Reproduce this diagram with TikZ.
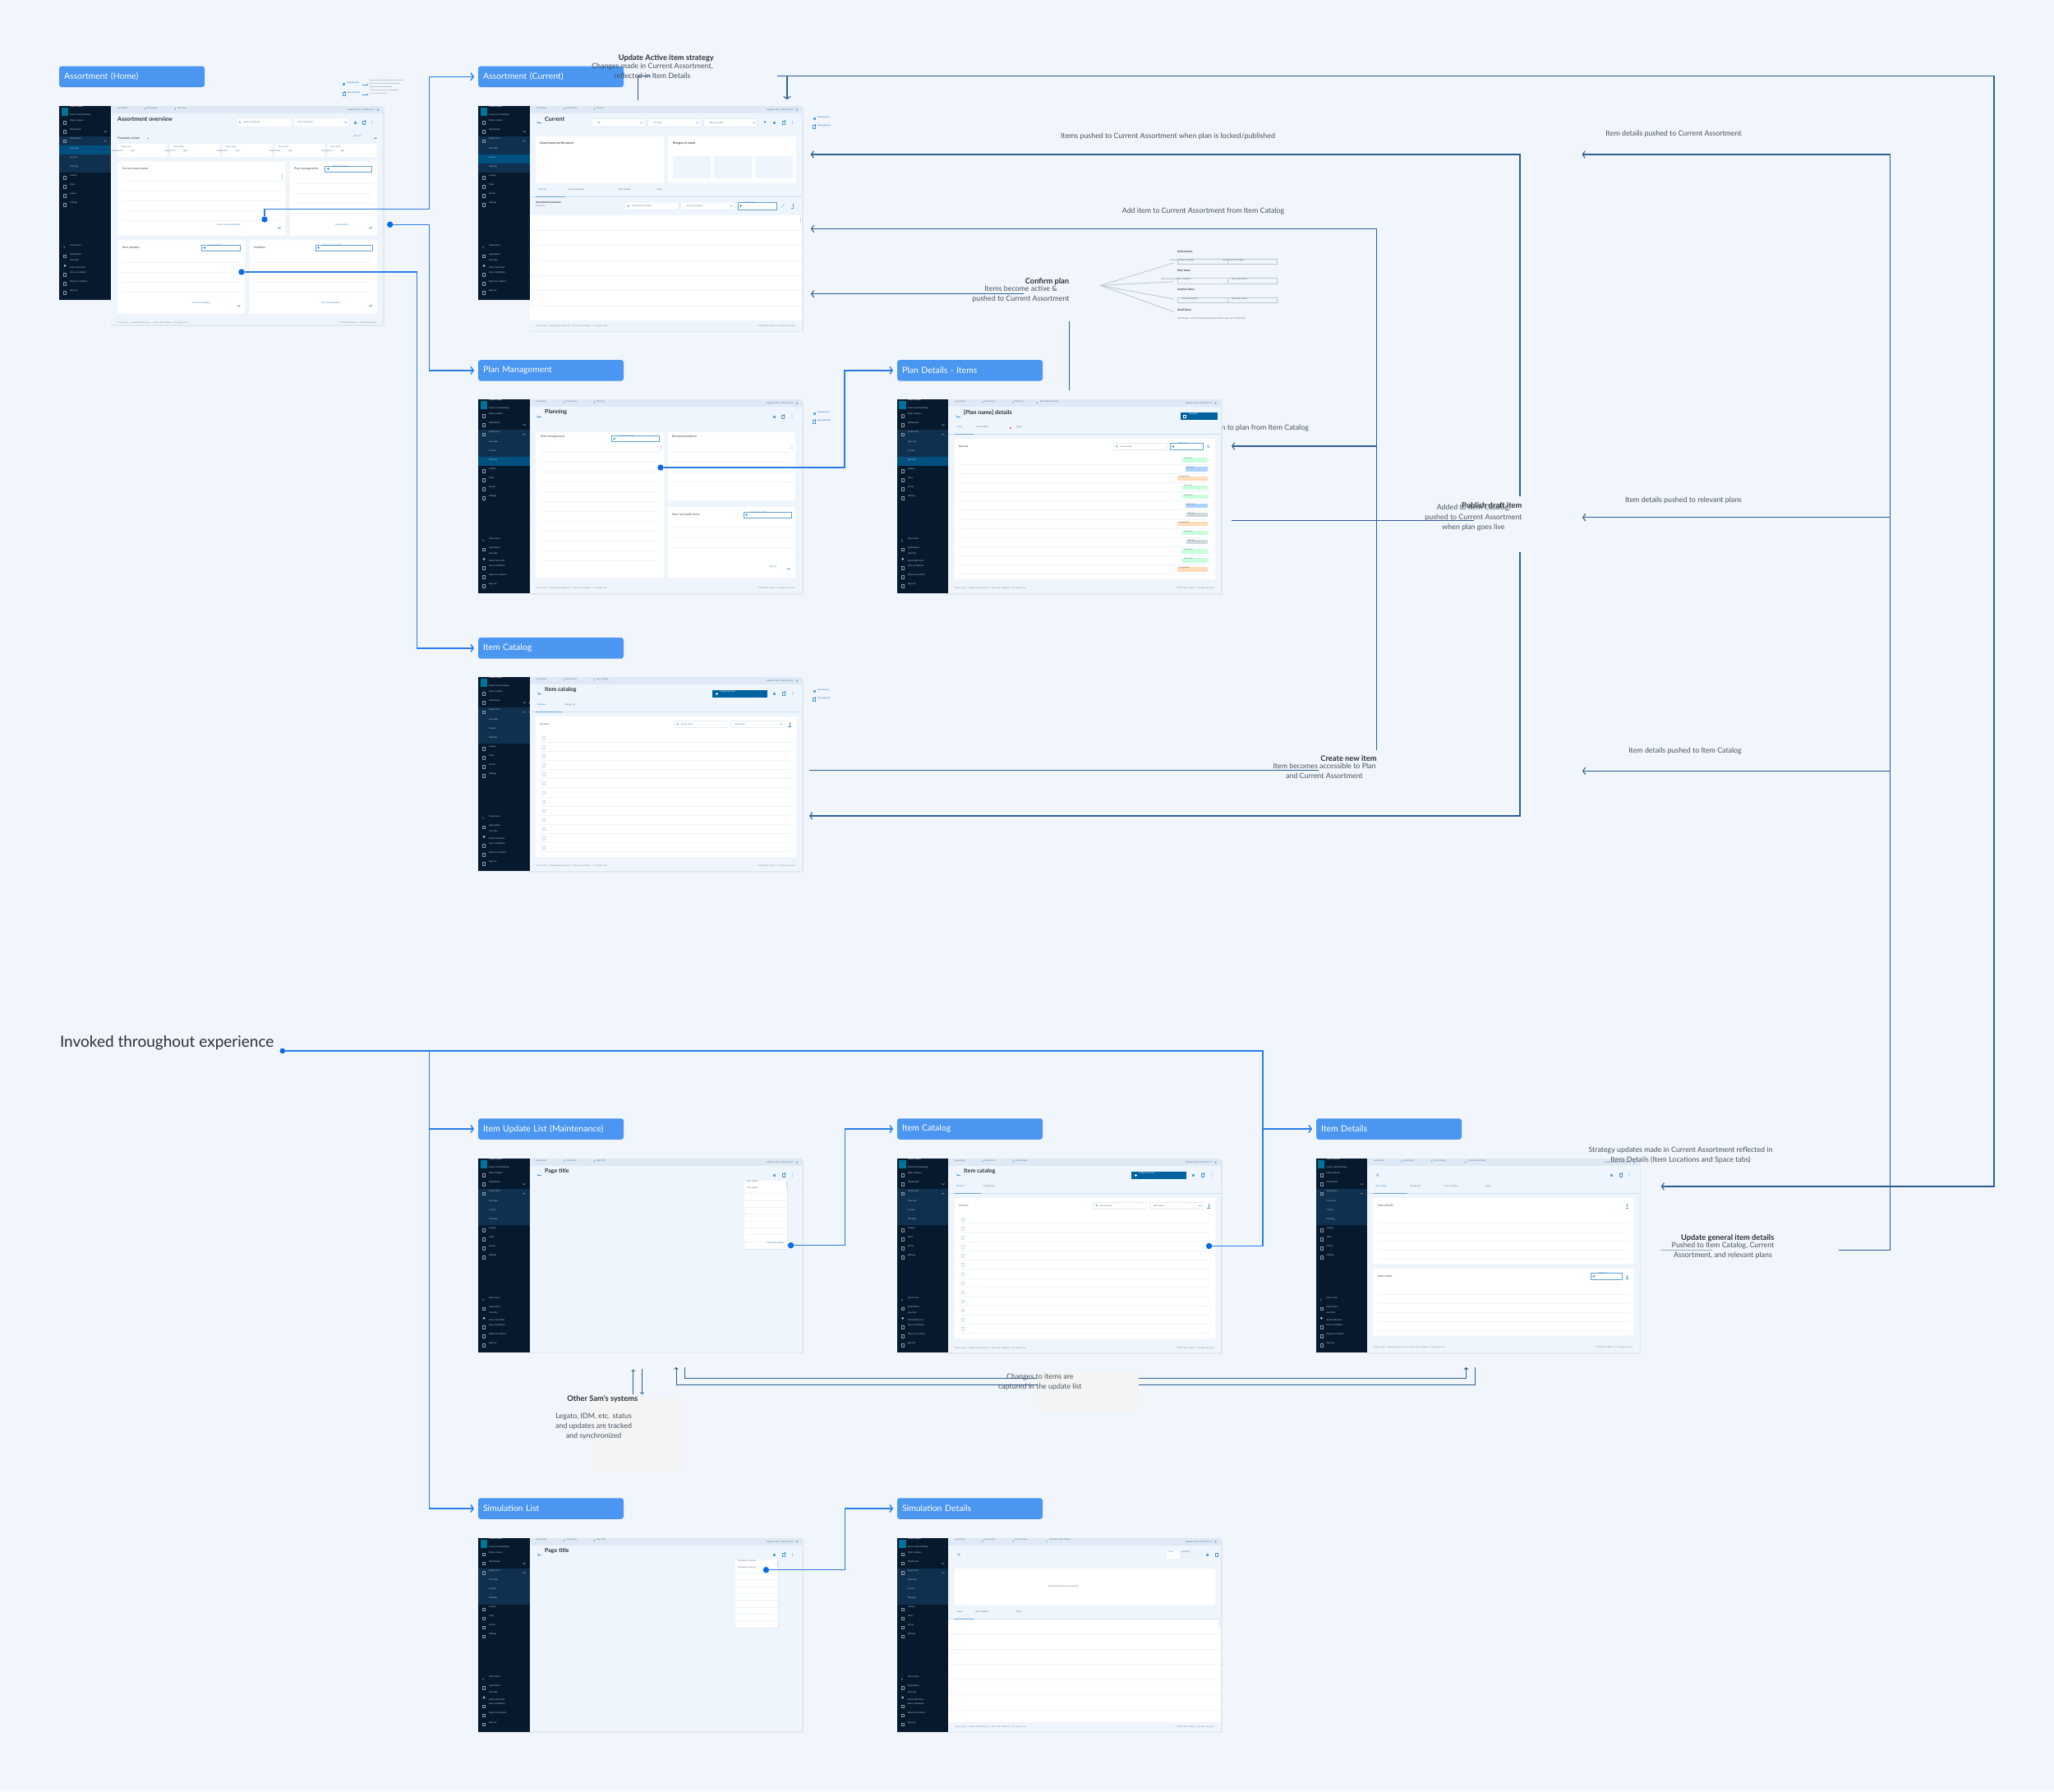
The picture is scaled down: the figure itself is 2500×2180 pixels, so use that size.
\documentclass[tikz,border=0pt]{standalone}
\usepackage{fontspec}
\setmainfont{Lato}
\usetikzlibrary{arrows.meta,positioning}

\definecolor{canvas}{HTML}{F1F5FC}
\definecolor{pagefill}{HTML}{EFF5FC}
\definecolor{barfill}{HTML}{DEE9F5}
\definecolor{pageshade}{HTML}{E3E8F0}
\definecolor{navdark}{HTML}{071A2D}
\definecolor{navband}{HTML}{10304F}
\definecolor{navactive}{HTML}{00507F}
\definecolor{navink}{HTML}{B7C4D1}
\definecolor{tagblue}{HTML}{4A96F1}
\definecolor{railblue}{HTML}{2A7DE8}
\definecolor{dotblue}{HTML}{0B6BE6}
\definecolor{flowblue}{HTML}{2F5F90}
\definecolor{linkblue}{HTML}{2F84C4}
\definecolor{rowblue}{HTML}{EEF4FB}
\definecolor{fieldline}{HTML}{CADBEA}
\definecolor{inkdark}{HTML}{2A3138}
\definecolor{inkbody}{HTML}{47525E}
\definecolor{inksmall}{HTML}{5F7286}
\definecolor{fanline}{HTML}{B9C7D2}
\definecolor{patchgrey}{HTML}{F4F4F4}
\definecolor{btnblue}{HTML}{00629E}

\newcounter{scrnodes}
\newcommand{\scrtext}[3][]{\stepcounter{scrnodes}%
  \node[scrsmall,#1] (scr\thescrnodes) at (#2) {#3};}
\newcommand{\rowlines}[5]{\foreach \rowi in {1,...,#5}{%
  \draw[rowline] (#1,{#3+(\rowi-1)*#4}) -- (#2,{#3+(\rowi-1)*#4});}}
\newcommand{\fieldsearch}[5]{%
  \draw[fieldbox] (#1,#3) rectangle (#2,#4);
  \draw[markline] ({#1+4},{(#3+#4)/2}) circle (1pt);
  \scrtext{{#1+8},{(#3+#4)/2}}{#5}}
\newcommand{\fielddrop}[5]{%
  \draw[fieldbox] (#1,#3) rectangle (#2,#4);
  \draw[markline] ({#2-5.5},{(#3+#4)/2-.7}) -- ++(1.5,1.5) -- ++(1.5,-1.5);
  \scrtext{{#1+4},{(#3+#4)/2}}{#5}}
\newcommand{\btnadd}[5]{%
  \draw[addbtn] (#1,#3) rectangle (#2,#4);
  \draw[markline] ({#1+2},{(#3+#4)/2}) -- ++(3,0) ({#1+3.5},{(#3+#4)/2-1.5}) -- ++(0,3);
  \scrtext[scrlink]{{#1+9},{#3+.4}}{#5}}
\newcommand{\headicons}[4]{%
  \fill[linkblue!75] ({#1-1.5},{#4-1.5}) rectangle ++(3,3);
  \draw[markline] ({#2-1.5},{#4-1.5}) rectangle ++(3,3.4);
  \fill[linkblue] ({#2+1.4},{#4-2}) circle (.9pt);
  \foreach \kebab in {-1.4,0,1.4}{\fill[linkblue] (#3,{#4+\kebab}) circle (.4pt);}}
\newcommand{\backmark}[2]{%
  \draw[markline,-{Straight Barb[length=1.4pt,width=3pt]}] ({#1+2.5},#2) -- ({#1-2.5},#2);}
\newcommand{\footrow}[1]{%
  \scrtext[scrfoot]{70,#1}{Privacy policy \ | \ Responsible disclosure \ | \ Terms and conditions \ | \ CA supply chain}
  \scrtext[scrfoot,anchor=east]{386,#1}{© 2020 Sam's West, Inc. All rights reserved.}}
\newcommand{\appframe}[5]{%
  \begin{scope}[shift={(#1,#2)}]
  \fill[pageshade] (62.4,1.5) rectangle (395.5,{#3+1.5});
  \fill[pagefill] (62.4,0) rectangle (394,#3);
  \fill[barfill] (62.4,0) rectangle (394,9.2);
  \scrtext{70,2.3}{Launchpad}
  \draw[crumbmark] (103.6,2.2) -- ++(1,1.2) -- ++(-1,1.2);
  \scrtext{106,2.3}{Assortment}
  \draw[crumbmark] (140.6,2.2) -- ++(1,1.2) -- ++(-1,1.2);
  \scrtext{143.5,2.3}{#5}
  \scrtext[anchor=east]{384,4.7}{Updated Feb 2, 10:30 am CT}
  \draw[markline] (387.5,4.7) circle (1pt);
  \fill[pageshade] (0,.8) rectangle (62.4,237);
  \fill[navdark] (0,0) rectangle (62.4,236);
  \fill[navband] (0,37) rectangle (62.4,81);
  \ifnum#4>0 \fill[navactive] (0,#4) rectangle (62.4,{#4+11}); \fi
  \fill[navactive!80!cyan] (2.3,2.3) rectangle (10.7,12.3);
  \scrtext[scrnav,text=white,font=\fontsize{3.3}{4}\selectfont]{13,1}{Launchpad}
  \foreach \navy/\navlabel in {11/Fusion merchandising,18/Daily rundown,29/Dashboards,40/Assortment,
      51.3/Overview,62.3/Current,73.3/Planning,84.3/Lookup,95.3/Tasks,106.3/Events,117.3/Settings,
      169.3/Close menu,180.3/Applications,187.7/Jane Doe,196.7/Senior Merchant,202.3/Give us feedback,
      213.3/Report an incident,224.7/Sign out}{\scrtext[scrnav]{12.7,\navy}{\navlabel}}
  \foreach \navy in {20,31,42.7,87,98,109,120,182.7,205,216,227}{%
    \draw[navmark] (5.2,{\navy-1.8}) rectangle ++(3,3.6);}
  \draw[navmark] (5.2,170.6) -- ++(1.3,1.2) -- ++(-1.3,1.2);
  \fill[navink] (6.7,194.3) circle (1.5pt);
  \draw[navmark] (54.2,30.3) -- ++(1.6,1.6) -- ++(1.6,-1.6);
  \draw[navmark] (54.2,43.5) -- ++(1.6,-1.6) -- ++(1.6,1.6);
  \end{scope}}
\newcommand{\traylegend}[3]{%
  \fill[linkblue!75] (#1,{#2-1.5}) rectangle ++(3,3);
  \draw[markline] (#1,{#3-1.5}) rectangle ++(3,3.4);
  \fill[linkblue] ({#1+2.8},{#3-2}) circle (.9pt);
  \scrtext[scrlink,font=\fontsize{2.3}{3}\selectfont\bfseries]{{#1+5.5},{#2-1}}{Simulation list}
  \scrtext[scrlink,font=\fontsize{2.3}{3}\selectfont\bfseries]{{#1+5.5},{#3-1}}{Item update list}}
\newcommand{\catalogbody}{%
  \backmark{1166.6}{1430}
  \scrtext[scrtitle]{1173,1426}{Item catalog}
  \fill[btnblue] (1376.7,1425.7) rectangle (1444,1435.3);
  \scrtext[text=white]{1386,1427.5}{Create new item}
  \draw[white,line width=.4pt] (1380.5,1430.5) -- ++(3,0) (1382,1429) -- ++(0,3);
  \headicons{1452.4}{1464}{1475}{1430}
  \draw[rowline] (1154.4,1441.3) -- (1486,1441.3);
  \scrtext[scrlink]{1164,1443.7}{All items}
  \scrtext{1197,1443.7}{Change log}
  \draw[tabline] (1154.4,1452.7) -- (1486,1452.7);
  \draw[tabactive] (1161.7,1452.7) -- (1194,1452.7);
  \fill[cardfill] (1161.7,1458) rectangle (1479.3,1629);
  \scrtext[scrcard,font=\fontsize{3}{4}\selectfont]{1167,1467.3}{All items}
  \fieldsearch{1330.6}{1396}{1463.3}{1471.3}{Search items}
  \fielddrop{1399.7}{1464.5}{1463.3}{1471.3}{Filter items}
  \draw[markline] (1471,1465) -- (1471,1469.5) (1469.3,1470) -- (1472.7,1470);
  \rowlines{1167}{1473.8}{1489.3}{11.07}{13}
  \foreach \rowk in {0,...,12}{\draw[markline,fieldline] (1170.5,{1482.3+11.07*\rowk}) rectangle ++(3,3.6);}
  \draw[rowline] (1161.7,1634) -- (1479.3,1634);}

\begin{document}
\begin{tikzpicture}[x=1pt,y=-1pt,
    scrsmall/.style={font=\fontsize{2.6}{3}\selectfont, inner sep=0, anchor=west, text=inksmall},
    scrnav/.style={font=\fontsize{2.6}{3}\selectfont, inner sep=0, anchor=west, text=navink},
    scrfoot/.style={font=\fontsize{2.4}{3}\selectfont, inner sep=0, anchor=west, text=inksmall!85},
    scrlink/.style={font=\fontsize{2.6}{3}\selectfont, inner sep=0, anchor=west, text=linkblue},
    scrcard/.style={font=\fontsize{3.7}{4}\selectfont, inner sep=0, anchor=west, text=inkdark!85},
    scrtitle/.style={font=\fontsize{7}{8}\selectfont\bfseries, inner sep=0, anchor=west, text=inkdark},
    scrbold/.style={font=\fontsize{3.3}{4}\selectfont\bfseries, inner sep=0, anchor=west, text=inkdark},
    cardfill/.style={fill=white, rounded corners=1pt},
    rowline/.style={draw=rowblue, line width=.45pt},
    tabline/.style={draw=linkblue!25, line width=.6pt},
    tabactive/.style={draw=linkblue!70, line width=1pt},
    fieldbox/.style={draw=fieldline!80, fill=white, line width=.45pt, rounded corners=.6pt},
    addbtn/.style={draw=linkblue!75, fill=white, line width=.45pt},
    markline/.style={draw=linkblue!85, line width=.35pt},
    crumbmark/.style={draw=linkblue, line width=.3pt},
    navmark/.style={draw=navink!75!navdark, line width=.4pt},
    greybox/.style={draw=fanline, line width=.5pt},
    fanspoke/.style={draw=fanline, line width=.8pt},
    pagetag/.style={fill=tagblue, rounded corners=3pt, text=white, outer sep=0, inner xsep=6pt,
        text width=165pt, minimum height=25.5pt, align=left, font=\fontsize{10.5}{12}\selectfont},
    navline/.style={draw=railblue, line width=1.4pt, shorten >=5pt, -{Straight Barb[length=3.2pt,width=9pt]}},
    navplain/.style={draw=railblue, line width=1.4pt},
    navdot/.style={circle, fill=dotblue, inner sep=0, minimum size=7.4pt, outer sep=0},
    flowline/.style={draw=flowblue, line width=1.1pt},
    flowarrow/.style={flowline, -{Straight Barb[length=3pt,width=8.5pt]}},
    thinarrow/.style={draw=flowblue, line width=.7pt, -{Straight Barb[length=2pt,width=4.5pt]}},
    notebody/.style={font=\fontsize{8.85}{12}\selectfont, text=inkbody, align=center, inner sep=0},
    notehead/.style={font=\fontsize{9.3}{12}\selectfont\bfseries, text=inkdark, inner sep=0, anchor=east},
    notehuge/.style={font=\fontsize{19}{22}\selectfont, text=inkdark, inner sep=0, anchor=west}
]
\useasboundingbox (0,0) rectangle (2500,2180);
\fill[canvas] (0,0) rectangle (2500,2180);

% hidden partly by the plan details screen
\node[notebody, anchor=east] (noteaddplan) at (1593,521.5) {Add item to plan from Item Catalog};

% first block
\appframe{72.3}{129}{266}{48}{Overview}
\scrtext[scrtitle]{143,144.7}{Assortment overview}
\fieldsearch{288}{355}{144}{154}{Search something}
\fielddrop{358}{425}{144}{154}{Filter something}
\headicons{432}{443}{453}{149}
\draw[rowline] (135,160.7) -- (466,160.7);
\scrtext[scrcard,font=\fontsize{3.3}{4}\selectfont\bfseries]{143,168.7}{Frequently visited}
\fill[linkblue] (179,168) -- (181,168) -- (180,169.6) -- cycle;
\scrtext[scrlink]{430,166}{View all}
\draw[markline,-{Straight Barb[length=1pt,width=2.4pt]}] (455,168) -- (458.5,168);
\foreach \cardx in {143,207,270.7,334.7,398.3}{%
  \fill[cardfill] (\cardx,175) rectangle ++(60.3,16);
  \scrtext[scrlink]{{\cardx+4},179}{View name}
  \scrtext{{\cardx-7},184}{Assortment}
  \scrtext{{\cardx+16},184}{sigh}}
\fill[cardfill] (143,196.3) rectangle (347.3,286.7);
\fill[cardfill] (353,196.3) rectangle (459,286.7);
\fill[cardfill] (143,292.3) rectangle (298,381.7);
\fill[cardfill] (303.7,292.3) rectangle (459,381.7);
\scrtext[scrcard]{148.7,205}{Current assortment}
\scrtext[scrcard]{358,205.5}{Plan management}
\scrtext[scrcard]{148.7,301.5}{Item updates}
\scrtext[scrcard]{309,301.5}{Sandbox}
\btnadd{395.7}{452.7}{202}{209.3}{Create new plan}
\btnadd{245.3}{292.7}{298}{305.3}{Create ticket}
\btnadd{384}{453}{298}{305.3}{Start new simulation}
\rowlines{148.7}{342}{220}{12}{5}
\rowlines{358}{453}{223}{12}{4}
\rowlines{148.7}{292.7}{319}{12}{4}
\rowlines{309}{453}{319}{12}{4}
\draw[fieldline,line width=.6pt] (343.7,212) -- (343.7,219);
\foreach \linkx/\linky/\linklabel/\markx in {264/274/View current assortment/340,408/274/View all plans/451,
    234/369/View item updates/290.7,391/369/View all simulations/451}{%
  \scrtext[scrlink]{\linkx,\linky}{\linklabel}
  \draw[markline,-{Straight Barb[length=1pt,width=2.4pt]}] ({\markx-1.8},{\linky+2.7}) -- ({\markx+1.8},{\linky+2.7});}
\draw[rowline] (143,387) -- (459,387);
\begin{scope}[shift={(72.3,0)}]
\footrow{393}
\end{scope}
\traylegend{416.7}{102}{114}
\draw[markline,-{Straight Barb[length=1pt,width=2.4pt]}] (441,103) -- (448,103);
\draw[markline,-{Straight Barb[length=1pt,width=2.4pt]}] (441,115) -- (448,115);
\foreach \traly/\trallabel in {98/Opens tray to view simulations that have been run,102.3/Can click into a simulation to view its details,
    106.3/Opens tray to view item updates/maintenance requests,110.3/Can click into a request to view its details,114.3/Can view the item listing}{%
  \scrtext[font=\fontsize{1.9}{2.4}\selectfont]{450,\traly}{\trallabel}}

% current assortment
\appframe{582.3}{129}{273.7}{59}{Current}
\backmark{656}{149}
\scrtext[scrtitle]{663,145}{Current}
\fielddrop{720}{785}{144.3}{154.3}{\quad NR}
\fielddrop{788.3}{853}{144.3}{154.3}{\quad 33--Days}
\fielddrop{856.7}{921.7}{144.3}{154.3}{\quad Month-to-date}
\fill[linkblue] (929.5,147.5) -- (932.5,147.5) -- (931,150) -- cycle;
\headicons{942}{954}{964.7}{149}
\draw[rowline] (644.7,160) -- (976,160);
\fill[cardfill] (652,166) rectangle (808,222.7);
\fill[cardfill] (813.3,166) rectangle (969,222.7);
\scrtext[scrcard,font=\fontsize{3.7}{4}\selectfont\bfseries]{657,174.5}{Assortment performance}
\scrtext[scrcard,font=\fontsize{3.7}{4}\selectfont\bfseries]{819,174.5}{Budgets \& totals}
\foreach \boxx in {819,869,918.7}{\fill[pagefill] (\boxx,190) rectangle ++(46,27);}
\scrtext[scrlink]{654.5,230.7}{Overview}
\scrtext{691,230.7}{Item performance}
\scrtext{753,230.7}{Item location}
\scrtext{799.5,230.7}{Space}
\draw[tabline] (644.7,239.3) -- (976,239.3);
\draw[tabactive] (652,239.3) -- (688,239.3);
\scrtext[scrbold,font=\fontsize{3.2}{4}\selectfont\bfseries]{652,246}{Assortment overview}
\scrtext{652,251}{210 items}
\fieldsearch{761}{826.7}{246}{255.3}{Search item numbers}
\fielddrop{829}{894}{246}{255.3}{\quad Sort by top items}
\btnadd{898}{945.7}{246}{255.3}{Add items}
\draw[markline] (951.5,252.5) -- (954.5,248.5);
\draw[markline] (964.7,248) -- (964.7,252) (963,253) -- (966.4,253);
\fill[white] (644.7,261.7) rectangle (976,390);
\rowlines{644.7}{976}{280}{18.4}{6}
\draw[fieldline,line width=.6pt] (974,264) -- (974,272);
\begin{scope}[shift={(582.3,0)}]
\footrow{396.7}
\end{scope}
\traylegend{989.5}{144}{154}

% plan management
\appframe{582.3}{486}{236}{70}{Planning}
\backmark{656}{507}
\scrtext[scrtitle]{663,502}{Planning}
\headicons{942}{953}{964}{507}
\draw[rowline] (644.7,519) -- (976,519);
\fill[cardfill] (652,526) rectangle (808,703);
\fill[cardfill] (813,526) rectangle (968,609);
\fill[cardfill] (813,617) rectangle (968,703);
\scrtext[scrcard]{658,531.5}{Plan management}
\scrtext[scrcard]{818,531.5}{Recommendations}
\scrtext[scrcard]{818,626}{New and draft items}
\btnadd{744.4}{802}{530}{537.5}{Create new plan}
\btnadd{905}{963}{623}{630}{Create new item}
\foreach \kebx in {805,964}{\foreach \keby in {-1.4,0,1.4}{\fill[inksmall] (\kebx,{545+\keby}) circle (.4pt);}}
\rowlines{658}{802}{550}{12}{12}
\rowlines{818}{963}{550}{12}{4}
\rowlines{818}{963}{642}{12}{3}
\scrtext[scrlink]{936,690}{View all}
\draw[markline,-{Straight Barb[length=1pt,width=2.4pt]}] (958,692) -- (961.5,692);
\begin{scope}[shift={(582.3,0)}]
\footrow{716}
\end{scope}
\traylegend{989.5}{503}{513}

% plan details
\appframe{1092}{486}{236}{70}{Planning}
\draw[crumbmark] (1261.7,489.2) -- ++(1,1.2) -- ++(-1,1.2);
\scrtext{1265.7,488.3}{[Plan Name] Details}
\backmark{1166}{506.7}
\scrtext[scrtitle]{1172.7,502}{[Plan name] details}
\fill[btnblue] (1436.7,501.7) rectangle (1481.7,511.3);
\scrtext[text=white]{1447,503.5}{Lock plan}
\draw[white,line width=.4pt] (1440.5,505.5) rectangle ++(2.6,3);
\draw[rowline] (1154.4,517) -- (1486,517);
\scrtext[scrlink]{1164.7,519.7}{Items}
\scrtext{1187.7,519.7}{Item location}
\scrtext{1237,519.7}{Space}
\fill[red!80!black] (1230,521) circle (.8pt);
\draw[tabline] (1154.4,528) -- (1486,528);
\draw[tabactive] (1161.7,528) -- (1185,528);
\fill[cardfill] (1161.7,534) rectangle (1479,705);
\scrtext[scrcard,font=\fontsize{3}{4}\selectfont\bfseries]{1167,543.3}{Item list}
\fieldsearch{1355.3}{1420.7}{539.3}{547.3}{Search items}
\btnadd{1424.3}{1464.3}{539.3}{547.3}{Add items}
\draw[markline] (1470.7,543.3) circle (1.6pt);
\rowlines{1167}{1473.3}{565.3}{11.07}{13}
\foreach \rowk/\badgex/\badgefill/\badgetext in {0/1439.3/green!60!cyan!22/Active item,1/1443/blue!55!cyan!32/New item,2/1433/orange!28/In negotiation,
    3/1439.3/green!60!cyan!22/Active item,4/1439.3/green!60!cyan!22/Active item,5/1443/blue!55!cyan!32/New item,6/1444.3/fanline!70/Past item,
    7/1433/orange!28/In negotiation,8/1439.3/green!60!cyan!22/Active item,9/1444.3/fanline!70/Past item,10/1439.3/green!60!cyan!22/Active item,
    11/1439.3/green!60!cyan!22/Active item,12/1433/orange!28/In negotiation}{%
  \fill[\badgefill] (\badgex,{557.4+11.07*\rowk}) rectangle (1470,{562.8+11.07*\rowk});
  \scrtext[text=inkdark!80,font=\fontsize{2.1}{3}\selectfont]{{\badgex+1.5},{558+11.07*\rowk}}{\badgetext}}
\draw[rowline] (1161.7,710.7) -- (1479,710.7);
\begin{scope}[shift={(1092,0)}]
\footrow{716}
\end{scope}

% item catalog, top
\appframe{582.3}{824}{236}{0}{Item Catalog}
\begin{scope}[shift={(-510,-586)}]
\catalogbody
\end{scope}
\begin{scope}[shift={(582.3,0)}]
\footrow{1054}
\end{scope}
\traylegend{989.5}{841}{851}

% item update list
\appframe{582.3}{1410}{235.5}{0}{Page Title}
\backmark{656.5}{1430}
\scrtext[scrtitle]{663,1426}{Page title}
\headicons{942}{954}{964.7}{1430}
\draw[rowline] (644.7,1441.3) -- (976,1441.3);
\fill[pageshade] (906,1437) rectangle (958.6,1521);
\fill[white] (906,1436.7) rectangle (958,1520);
\rowlines{906}{958}{1452.7}{8.3}{8}
\scrtext{909,1437.7}{Item update}
\scrtext{909,1445.7}{Item update}
\draw[fieldline,line width=.6pt] (957,1438) -- (957,1446);
\scrtext[scrlink]{933.5,1513}{View item catalog}

% item catalog, bottom
\appframe{1092}{1410}{236}{0}{Item Catalog}
\catalogbody
\begin{scope}[shift={(1092,0)}]
\footrow{1640.3}
\end{scope}

% item details
\appframe{1601.7}{1410}{236}{0}{Item Catalog}
\draw[crumbmark] (1783,1413.2) -- ++(1,1.2) -- ++(-1,1.2);
\scrtext{1786,1412.3}{[Item name] Details}
\draw[markline] (1675.2,1428.5) -- ++(3,3) (1678.2,1428.5) -- ++(-3,3);
\headicons{1961}{1972.5}{1983}{1430}
\draw[rowline] (1664,1441.3) -- (1995.7,1441.3);
\scrtext[scrlink]{1674,1443.7}{Item details}
\scrtext{1716,1443.7}{Change log}
\scrtext{1758.5,1443.7}{Item locations}
\scrtext{1808,1443.7}{Space}
\draw[tabline] (1664,1452.7) -- (1995.7,1452.7);
\draw[tabactive] (1671.3,1452.7) -- (1713.3,1452.7);
\fill[cardfill] (1671.3,1458) rectangle (1988.7,1538.3);
\fill[cardfill] (1671.3,1544) rectangle (1988.7,1625);
\scrtext[scrcard]{1677,1467}{Item details}
\scrtext[scrcard]{1677,1553.3}{Item notes}
\rowlines{1677}{1983.3}{1488.3}{11}{5}
\rowlines{1677}{1983.3}{1575.3}{11}{5}
\btnadd{1936.3}{1974}{1549.3}{1557}{Add note}
\draw[markline] (1980.3,1465) -- (1980.3,1469) (1978.5,1470) -- (1982.1,1470);
\draw[markline] (1980.3,1551.5) -- (1980.3,1555.5) (1978.5,1556.5) -- (1982.1,1556.5);
\draw[rowline] (1671.3,1634) -- (1988.7,1634);
\begin{scope}[shift={(1601.7,0)}]
\footrow{1640}
\end{scope}

% simulation list
\appframe{582.3}{1871.7}{235.5}{0}{Page Title}
\backmark{656.5}{1892}
\scrtext[scrtitle]{663,1888}{Page title}
\headicons{942}{954}{964.7}{1892}
\draw[rowline] (644.7,1903.3) -- (976,1903.3);
\fill[pageshade] (895,1898.5) rectangle (947.6,1982);
\fill[white] (895,1898) rectangle (947,1981);
\rowlines{895}{947}{1914.3}{8.3}{8}
\scrtext{898,1899.3}{Simulation progress}
\scrtext{898,1907.7}{Simulation progress}
\draw[fieldline,line width=.6pt] (946,1899) -- (946,1907);

% simulation details
\appframe{1092}{1871.7}{236}{0}{Item Catalog}
\draw[crumbmark] (1273.5,1874.9) -- ++(1,1.2) -- ++(-1,1.2);
\scrtext{1277,1874}{Simulation [ID] Details}
\draw[markline] (1165.5,1890.5) -- ++(3,3) (1168.5,1890.5) -- ++(-3,3);
\fill[barfill!60!white] (1420,1886.7) rectangle (1463.3,1897.3);
\fill[white] (1420,1886.7) rectangle (1436,1897.3);
\scrtext[scrlink]{1422.5,1889}{View}
\scrtext{1437.5,1889}{Compare}
\fill[linkblue!75] (1468,1890.5) rectangle ++(3,3);
\draw[markline] (1479.5,1890.5) rectangle ++(3,3.4);
\draw[rowline] (1154.4,1903.3) -- (1486,1903.3);
\fill[cardfill] (1161.7,1909) rectangle (1479.3,1953.7);
\scrtext[anchor=center]{1294.4,1931}{Totals/performance and forecast}
\scrtext[scrlink]{1165,1961.3}{Items}
\scrtext{1187,1961.3}{Item locations}
\scrtext{1237,1961.3}{Space}
\draw[tabline] (1154.4,1970) -- (1486,1970);
\draw[tabactive] (1161.7,1970) -- (1184.7,1970);
\fill[white] (1154.4,1971) rectangle (1486,2096);
\rowlines{1154.4}{1486}{1988.3}{18.5}{6}
\draw[fieldline,line width=.6pt] (1484,1972) -- (1484,1981);
\begin{scope}[shift={(1092,0)}]
\footrow{2101.7}
\end{scope}

% page tags
\node[pagetag] (taghome) at (160.5,93.3) {Assortment (Home)};
\node[pagetag, right=333pt of taghome] (tagcurrent) {Assortment (Current)};
\node[pagetag, below=332pt of tagcurrent] (tagplan) {Plan Management};
\node[pagetag, right=333pt of tagplan] (tagdetails) {Plan Details - Items};
\node[pagetag, below=312.5pt of tagplan] (tagcatalog) {Item Catalog};
\node[pagetag] (tagupdate) at (670.5,1374) {Item Update List (Maintenance)};
\node[pagetag, right=333pt of tagupdate] (tagitemcat) {Item Catalog};
\node[pagetag, right=333pt of tagitemcat] (tagitemdet) {Item Details};
\node[pagetag, below=436.5pt of tagupdate] (tagsimlist) {Simulation List};
\node[pagetag, right=333pt of tagsimlist] (tagsimdet) {Simulation Details};

% dots and rails
\node[navdot] (dotcurrent) at (322,267) {};
\node[navdot] (dotplan) at (474.7,273.3) {};
\node[navdot] (dotitems) at (294,331) {};
\node[navdot] (dotplandet) at (804,569) {};
\node[navdot, minimum size=6.6pt] (dotinvoked) at (343.8,1279) {};
\node[navdot] (dottray) at (962.6,1515.7) {};
\node[navdot] (dotcatalog) at (1471.6,1516.5) {};
\node[navdot] (dotsim) at (932.4,1910.7) {};
\coordinate (railtop) at (522.7,254.3);
\coordinate (railplan) at (522.7,273.3);
\coordinate (railitems) at (507.5,331);
\coordinate (railplandet) at (1028,569);
\coordinate (railinvoked) at (522.4,1279);
\coordinate (railfar) at (1537,1516.5);
\coordinate (railtray) at (1028.4,1515.7);
\coordinate (railsim) at (1028.4,1910.7);
\draw[navline] (dotcurrent) |- (railtop) |- (tagcurrent.west);
\draw[navline] (dotplan) -- (railplan) |- (tagplan.west);
\draw[navline] (dotitems) -- (railitems) |- (tagcatalog.west);
\draw[navline] (dotplandet) -- (railplandet) |- (tagdetails.west);
\draw[navplain] (dotinvoked) -| (railfar) -- (dotcatalog);
\draw[navline] (railinvoked) |- (tagsimlist.west);
\draw[navline] (railinvoked |- tagupdate.west) -- (tagupdate.west);
\draw[navline] (railfar |- tagitemdet.west) -- (tagitemdet.west);
\draw[navline] (dottray) -- (railtray) |- (tagitemcat.west);
\draw[navline] (dotsim) -- (railsim) |- (tagsimdet.west);

% flows between screens
\coordinate (strategyfoot) at (776.7,121.7);
\coordinate (strategyturn) at (776.7,92.7);
\coordinate (strategyend) at (791.7,92.7);
\coordinate (strategystart) at (946,92.7);
\coordinate (strategydrop) at (958,92.7);
\coordinate (strategytip) at (958,121);
\coordinate (farcorner) at (2427,1444);
\coordinate (detailsback) at (2021.7,1444);
\coordinate (generalfrom) at (2238,1521.7);
\coordinate (generalstub) at (2021,1521.7);
\coordinate (generalstop) at (2084,1521.7);
\coordinate (pushtop) at (2300.7,188);
\coordinate (pushcurrent) at (1925.6,188);
\coordinate (pushplans) at (1926,629.7);
\coordinate (pushcatalog) at (1926,938.3);
\coordinate (lockupper) at (1850,604);
\coordinate (lockcurrent) at (986.7,188);
\coordinate (locklower) at (1850,672);
\coordinate (lockcatalog) at (985,993);
\coordinate (publishfrom) at (1499,633.6);
\coordinate (publishto) at (1793.5,633.6);
\coordinate (addfoot) at (1675.8,913);
\coordinate (addcurrent) at (987,278.5);
\coordinate (addplan) at (1499,543);
\coordinate (createfrom) at (985,937.8);
\coordinate (createto) at (1604.6,937.8);
\coordinate (confirmfrom) at (1245.5,357.7);
\coordinate (confirmto) at (987,357.7);
\coordinate (confirmup) at (1301.5,391.4);
\coordinate (confirmdown) at (1301.5,474.8);
\draw[flowline] (strategyfoot) -- (strategyturn) -- (strategyend);
\draw[flowarrow] (strategystart) -| (farcorner) -- (detailsback);
\draw[flowarrow] (strategydrop) -- (strategytip);
\draw[flowarrow] (generalfrom) -| (pushtop) -- (pushcurrent);
\draw[flowarrow] (pushplans -| pushtop) -- (pushplans);
\draw[flowarrow] (pushcatalog -| pushtop) -- (pushcatalog);
\draw[flowline, draw=flowblue!50] (generalstub) -- (generalstop);
\draw[flowarrow] (lockupper) |- (lockcurrent);
\draw[flowarrow] (locklower) |- (lockcatalog);
\draw[flowline] (publishfrom) -- (publishto);
\draw[flowarrow] (addfoot) |- (addcurrent);
\draw[flowarrow] (addfoot |- addplan) -- (addplan);
\draw[flowline] (createfrom) -- (createto);
\draw[flowarrow] (confirmfrom) -- (confirmto);
\draw[flowline, line width=.8pt] (confirmup) -- (confirmdown);

% confirm plan table
\coordinate (fanroot) at (1339.3,347.4);
\coordinate (fanactive) at (1428.6,320);
\coordinate (fannew) at (1428.6,342.8);
\coordinate (faninactive) at (1428.6,364);
\coordinate (fandraft) at (1428.6,379.5);
\foreach \spoke in {fanactive,fannew,faninactive,fandraft}{\draw[fanspoke] (fanroot) -- (\spoke);}
\draw[greybox] (1433,315) rectangle (1493.8,321.3) (1493.8,315) rectangle (1554.5,321.3);
\draw[greybox,dash pattern=on .8pt off .6pt] (1433,338.6) rectangle (1493.8,345);
\draw[greybox] (1493.8,338.6) rectangle (1554.5,345);
\draw[greybox] (1433,362) rectangle (1493.8,368.4) (1493.8,362) rectangle (1554.5,368.4);
\scrtext[scrbold]{1433,306}{Active items}
\scrtext[scrbold]{1433,329}{New items}
\scrtext[scrbold]{1433,352.4}{Inactive items}
\scrtext[scrbold]{1433,376.8}{Draft items}
\scrtext{1424,316.8}{Current statuses/strategy}
\scrtext{1488,316.8}{New statuses/strategy}
\scrtext{1413,339.7}{Items being created \& validated}
\scrtext{1499,339.7}{Item goes active}
\scrtext{1438,363.5}{Inactive statuses}
\scrtext{1499,363.5}{Item goes active}
\scrtext{1433,387.5}{Not allowed - all items must be published before a plan can be confirmed}

% systems and changes
\coordinate (systemsupfrom) at (770.8,1696.7);
\coordinate (systemsupto) at (770.8,1666.7);
\coordinate (systemsdownfrom) at (781.5,1666);
\coordinate (systemsdownto) at (781.5,1697);
\coordinate (outerright) at (1795.3,1664);
\coordinate (outerleft) at (823,1685.3);
\coordinate (outertip) at (823,1664);
\coordinate (innerleft) at (833.6,1664);
\coordinate (innerright) at (1784.6,1677);
\coordinate (innertip) at (1784.6,1664);
\draw[thinarrow] (systemsupfrom) -- (systemsupto);
\draw[thinarrow] (systemsdownfrom) -- (systemsdownto);
\draw[thinarrow, line width=1pt] (outerright) |- (outerleft) -- (outertip);
\draw[thinarrow, line width=1pt] (innerleft) |- (innerright) -- (innertip);
\fill[patchgrey] (719.6,1701) rectangle (832,1790);
\fill[patchgrey] (1262,1669) rectangle (1386,1718.7);

% notes
\node[notehuge] (noteinvoked) at (72.8,1269) {Invoked throughout experience};
\node[notehead] (headstrategy) at (869,71.3) {Update Active item strategy};
\node[notebody] (notestrategy) at (794,86.7) {Changes made in Current Assortment,\\reflected in Item Details};
\node[notebody] (notelocked) at (1421.5,166) {Items pushed to Current Assortment when plan is locked/published};
\node[notebody] (notepushcurrent) at (2037,163) {Item details pushed to Current Assortment};
\node[notebody] (noteaddcurrent) at (1464.5,257.4) {Add item to Current Assortment from Item Catalog};
\node[notehead] (headconfirm) at (1301.3,342.8) {Confirm plan};
\node[notebody] (noteconfirm) at (1242.5,358.2) {Items become active \&\\pushed to Current Assortment};
\node[notehead] (headpublish) at (1852.6,614.7) {Publish draft item};
\node[notebody] (notepublish) at (1793.5,630) {Added to Item Catalog,\\pushed to Current Assortment\\when plan goes live};
\node[notebody] (notepushplans) at (2049,609) {Item details pushed to relevant plans};
\node[notehead] (headcreate) at (1675.8,923) {Create new item};
\node[notebody] (notecreate) at (1612,938.3) {Item becomes accessible to Plan\\and Current Assortment};
\node[notebody] (notepushcatalog) at (2051,914) {Item details pushed to Item Catalog};
\node[notebody] (notereflected) at (2045.5,1405.7) {Strategy updates made in Current Assortment reflected in\\Item Details (Item Locations and Space tabs)};
\node[notehead] (headgeneral) at (2159.5,1506.7) {Update general item details};
\node[notebody] (notegeneral) at (2097,1521.7) {Pushed to Item Catalog, Current\\Assortment, and relevant plans};
\node[notehead, anchor=center] (headsystems) at (733.3,1703) {Other Sam's systems};
\node[notebody] (notesystems) at (722.6,1735.7) {Legato, IDM, etc. status\\and updates are tracked\\and synchronized};
\node[notebody] (notechanges) at (1265.9,1682.3) {Changes to items are\\captured in the update list};
\end{tikzpicture}
\end{document}
